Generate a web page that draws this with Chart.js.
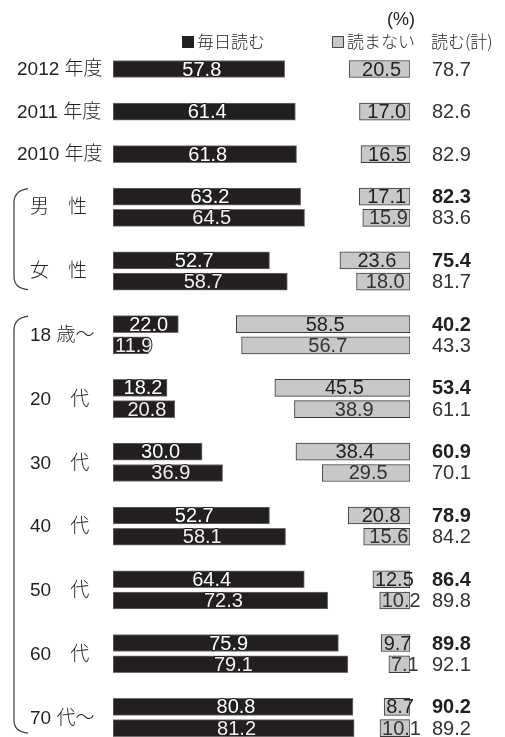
<!DOCTYPE html>
<html>
<head>
<meta charset="utf-8">
<script src="https://cdn.jsdelivr.net/npm/chart.js@4/dist/chart.umd.min.js"></script>
<style>
  html, body { margin: 0; padding: 0; background: #ffffff; }
  #wrap { width: 505px; height: 737px; position: relative; }
</style>
</head>
<body>
<div id="wrap"><canvas id="chart" width="505" height="737"></canvas></div>
<script>
// Newspaper reading survey (%)
// first row of each pair = 2012, second row = earlier survey

var categories = ['2012 年度', '2011 年度', '2010 年度', '男　性', '女　性', '18 歳〜',
                  '20　代', '30　代', '40　代', '50　代', '60　代', '70 代〜'];

// 毎日読む
var dailyMain = [57.8, 61.4, 61.8, 63.2, 52.7, 22.0, 18.2, 30.0, 52.7, 64.4, 75.9, 80.8];
var dailyPrev = [null, null, null, 64.5, 58.7, 11.9, 20.8, 36.9, 58.1, 72.3, 79.1, 81.2];

// 読まない
var notMain = [20.5, 17.0, 16.5, 17.1, 23.6, 58.5, 45.5, 38.4, 20.8, 12.5, 9.7, 8.7];
var notPrev = [null, null, null, 15.9, 18.0, 56.7, 38.9, 29.5, 15.6, 10.2, 7.1, 10.1];

// 読む(計)
var totalMain = [78.7, 82.6, 82.9, 82.3, 75.4, 40.2, 53.4, 60.9, 78.9, 86.4, 89.8, 90.2];
var totalPrev = [null, null, null, 83.6, 81.7, 43.3, 61.1, 70.1, 84.2, 89.8, 92.1, 89.2];

var FONT = '"Liberation Sans", "Noto Sans CJK JP", sans-serif';
var JFONT = '"Noto Sans CJK JP", sans-serif';

// row slot of each category on the y axis (years single rows, others pairs)
function slotOf(i) {
    if (i < 3) return i * 2;
    return 6 + (i - 3) * 3;
}

function buildBars(values, second, notRead) {
    var out = [];
    values.forEach(function (v, i) {
        if (v === null) return;
        var y = slotOf(i) + (second ? 1 : 0);
        out.push({ x: notRead ? [100 - v, 100] : [0, v], y: y });
    });
    return out;
}

var labelsPlugin = {
    id: 'labels',
    afterDatasetsDraw: function (chart) {
        var ctx = chart.ctx;
        var xs = chart.scales.x, ys = chart.scales.y;
        ctx.save();
        ctx.textBaseline = 'middle';
        ctx.lineJoin = 'round';

        // header
        ctx.fillStyle = '#231f20';
        ctx.font = '18px ' + FONT;
        ctx.textAlign = 'left';
        ctx.fillText('(%)', 387, 20);
        ctx.fillRect(182, 36, 12, 12);
        ctx.font = '300 17px ' + JFONT;
        ctx.fillText('毎日読む', 197, 42);
        ctx.fillStyle = '#c8c8c8';
        ctx.fillRect(332, 36, 12, 12);
        ctx.strokeStyle = '#444';
        ctx.lineWidth = 1;
        ctx.strokeRect(332.5, 36.5, 11, 11);
        ctx.fillStyle = '#231f20';
        ctx.fillText('読まない', 347, 42);
        ctx.fillText('読む(計)', 431, 42);

        // category labels
        categories.forEach(function (c, i) {
            var s = slotOf(i);
            var y = i < 3 ? ys.getPixelForValue(s) : ys.getPixelForValue(s + 0.5);
            var x = i < 3 ? 17 : 30;
            ctx.fillStyle = '#231f20';
            ctx.font = '300 19px ' + FONT;
            ctx.textAlign = 'left';
            ctx.fillText(c, x, y + 1);
        });

        // values in bars
        function barText(v, y, notRead, second) {
            var txt = v.toFixed(1);
            ctx.font = '20px ' + FONT;
            var tw = ctx.measureText(txt).width;
            var x0 = xs.getPixelForValue(notRead ? 100 - v : 0);
            var x1 = xs.getPixelForValue(notRead ? 100 : v);
            var cx = Math.max((x0 + x1) / 2 + (notRead ? 2 : 3), x0 + tw / 2 + 2);
            ctx.textAlign = 'center';
            if (notRead) {
                ctx.fillStyle = second ? '#333333' : '#231f20';
                ctx.fillText(txt, cx, y + 1);
            } else {
                // dark outline so text running past the bar end stays readable
                ctx.lineWidth = 2;
                ctx.strokeStyle = '#231f20';
                ctx.strokeText(txt, cx, y + 1);
                ctx.fillStyle = second ? '#eeeeee' : '#ffffff';
                ctx.fillText(txt, cx, y + 1);
            }
        }

        categories.forEach(function (c, i) {
            var s = slotOf(i);
            var y1 = ys.getPixelForValue(s);
            var y2 = ys.getPixelForValue(s + 1);
            barText(dailyMain[i], y1, false, false);
            barText(notMain[i], y1, true, false);
            ctx.textAlign = 'left';
            ctx.fillStyle = i < 3 ? '#333333' : '#231f20';
            ctx.font = (i < 3 ? '' : 'bold ') + '20px ' + FONT;
            ctx.fillText(totalMain[i].toFixed(1), 432, y1 + 1);
            if (dailyPrev[i] !== null) {
                barText(dailyPrev[i], y2, false, true);
                barText(notPrev[i], y2, true, true);
                ctx.textAlign = 'left';
                ctx.fillStyle = '#333333';
                ctx.font = '20px ' + FONT;
                ctx.fillText(totalPrev[i].toFixed(1), 432, y2 + 1);
            }
        });

        // brackets
        function bracket(top, bottom) {
            ctx.beginPath();
            ctx.strokeStyle = '#3a3a3a';
            ctx.lineWidth = 1.2;
            ctx.moveTo(28, top);
            ctx.quadraticCurveTo(14, top + 2, 14, top + 14);
            ctx.lineTo(14, bottom - 12);
            ctx.quadraticCurveTo(14, bottom, 28, bottom + 1);
            ctx.stroke();
        }
        bracket(ys.getPixelForValue(slotOf(3)) - 8, ys.getPixelForValue(slotOf(4) + 1) + 7);
        bracket(ys.getPixelForValue(slotOf(5)) - 8, ys.getPixelForValue(slotOf(11) + 1) + 4);

        ctx.restore();
    }
};

function initChart() {
    var ctx = document.getElementById('chart').getContext('2d');
    new Chart(ctx, {
        type: 'bar',
        data: {
            datasets: [{
                label: '毎日読む',
                data: buildBars(dailyMain, false, false),
                backgroundColor: '#231f20',
                borderColor: '#6f6f6f',
                borderWidth: 1
            }, {
                label: '毎日読む (前回)',
                data: buildBars(dailyPrev, true, false),
                backgroundColor: '#231f20',
                borderColor: '#6f6f6f',
                borderWidth: 1
            }, {
                label: '読まない',
                data: buildBars(notMain, false, true),
                backgroundColor: '#c8c8c8',
                borderColor: '#3a3a3a',
                borderWidth: 1
            }, {
                label: '読まない (前回)',
                data: buildBars(notPrev, true, true),
                backgroundColor: '#c8c8c8',
                borderColor: '#3a3a3a',
                borderWidth: 1
            }]
        },
        options: {
            indexAxis: 'y',
            responsive: false,
            animation: false,
            layout: { padding: { left: 113, right: 95, top: 58.4, bottom: 0 } },
            datasets: {
                bar: { grouped: false, barThickness: 17, borderSkipped: false }
            },
            plugins: {
                legend: { display: false },
                tooltip: { enabled: false }
            },
            scales: {
                x: { type: 'linear', min: 0, max: 100, display: false, offset: false },
                y: { type: 'linear', min: -0.5, max: 31.42, reverse: true, display: false, offset: false }
            }
        },
        plugins: [labelsPlugin]
    });
}

window.onload = initChart;
</script>
</body>
</html>
